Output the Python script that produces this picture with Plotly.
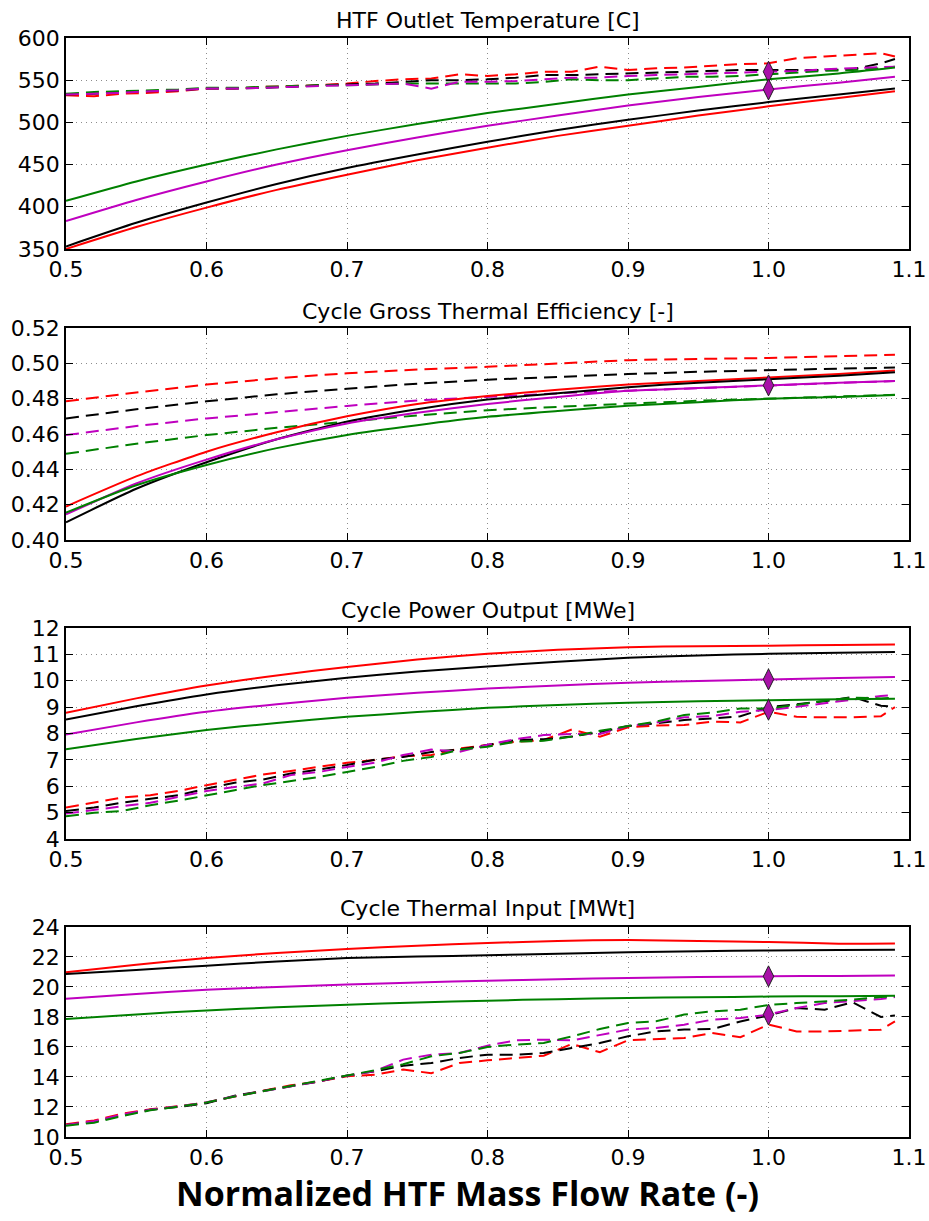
import plotly.graph_objects as go

# ---------------- data ----------------
x_solid = [0.50, 0.55, 0.60, 0.65, 0.70, 0.75, 0.80, 0.85, 0.90, 0.95, 1.00, 1.05, 1.09]
x_dash = [0.50, 0.52, 0.54, 0.56, 0.58, 0.60, 0.62, 0.64, 0.66, 0.68, 0.70, 0.72, 0.74, 0.76, 0.78,
          0.80, 0.82, 0.84, 0.86, 0.88, 0.90, 0.92, 0.94, 0.96, 0.98, 1.00, 1.02, 1.04, 1.06, 1.08, 1.09]

titles = ["HTF Outlet Temperature [C]", "Cycle Gross Thermal Efficiency [-]",
          "Cycle Power Output [MWe]", "Cycle Thermal Input [MWt]"]
x_label = "Normalized HTF Mass Flow Rate (-)"

# Panel 1: HTF outlet temperature
t_solid_green = [407, 430, 450, 468, 484, 498, 511, 522, 533, 542, 551, 558, 565]
t_solid_mag = [383, 408, 430, 450, 467, 482, 496, 508, 520, 530, 539, 547, 554]
t_solid_black = [353, 381, 405, 427, 446, 462, 477, 491, 503, 514, 524, 533, 540]
t_solid_red = [350, 376, 399, 420, 438, 455, 470, 484, 496, 508, 519, 529, 537]
t_dash_red = [532, 531, 534, 535, 537, 540, 540, 542, 543, 544, 546, 549, 551, 552, 557,
              555, 557, 560, 560, 566, 562, 564, 565, 567, 569, 570, 576, 578, 580, 582, 578]
t_dash_black = [533, 534, 536, 537, 538, 540, 540, 541, 542, 544, 545, 546, 548, 550, 550,
                551, 553, 556, 556, 557, 558, 559, 560, 561, 562, 562, 562, 562, 563, 570, 575]
t_dash_green = [534, 536, 537, 538, 539, 541, 541, 542, 543, 544, 544, 545, 546, 546, 546,
                546, 546, 548, 551, 550, 550, 552, 554, 554, 555, 557, 559, 561, 562, 564, 566]
t_dash_mag = [533, 534, 535, 537, 538, 540, 540, 541, 542, 543, 544, 545, 546, 540, 548,
              548, 549, 551, 553, 553, 555, 556, 557, 558, 559, 560, 561, 563, 564, 565, 566]
t_design = [560, 539]

# Panel 2: cycle gross thermal efficiency
e_solid_red = [0.419, 0.436, 0.450, 0.461, 0.470, 0.477, 0.4815, 0.485, 0.488, 0.490, 0.492, 0.494, 0.496]
e_solid_black = [0.410, 0.429, 0.444, 0.457, 0.467, 0.474, 0.4795, 0.483, 0.4865, 0.489, 0.491, 0.493, 0.495]
e_solid_mag = [0.4145, 0.432, 0.4455, 0.457, 0.466, 0.472, 0.477, 0.481, 0.4845, 0.486, 0.4875, 0.489, 0.490]
e_solid_green = [0.4155, 0.431, 0.4425, 0.452, 0.4595, 0.465, 0.4697, 0.473, 0.476, 0.478, 0.480, 0.481, 0.482]
e_dash_red = [0.4785, 0.4835, 0.488, 0.4915, 0.4944, 0.4965, 0.498, 0.500, 0.5018, 0.5025, 0.503, 0.504, 0.5048]
e_dash_black = [0.4688, 0.474, 0.4785, 0.4825, 0.4856, 0.4885, 0.4907, 0.4925, 0.4939, 0.4952, 0.4963, 0.497, 0.4976]
e_dash_mag = [0.4594, 0.4645, 0.4688, 0.4725, 0.4759, 0.479, 0.4812, 0.483, 0.4845, 0.486, 0.4875, 0.489, 0.490]
e_dash_green = [0.4488, 0.4545, 0.4594, 0.4635, 0.467, 0.4705, 0.4735, 0.4755, 0.4772, 0.4788, 0.480, 0.481, 0.4822]
e_design = [0.4875]

# Panel 3: cycle power output
p_solid_red = [8.78, 9.33, 9.82, 10.20, 10.52, 10.80, 11.02, 11.17, 11.27, 11.31, 11.33, 11.35, 11.37]
p_solid_black = [8.53, 9.03, 9.48, 9.83, 10.11, 10.35, 10.54, 10.72, 10.87, 10.96, 11.02, 11.06, 11.09]
p_solid_mag = [7.96, 8.42, 8.82, 9.11, 9.35, 9.54, 9.70, 9.82, 9.92, 9.99, 10.05, 10.10, 10.14]
p_solid_green = [7.40, 7.79, 8.13, 8.40, 8.63, 8.81, 8.97, 9.08, 9.16, 9.22, 9.26, 9.30, 9.32]
p_dash_red = [5.19, 5.37, 5.57, 5.66, 5.82, 6.04, 6.23, 6.44, 6.58, 6.73, 6.89, 6.99, 7.14, 7.18, 7.43,
              7.56, 7.68, 7.75, 8.15, 7.88, 8.23, 8.30, 8.32, 8.45, 8.42, 8.82, 8.63, 8.61, 8.61, 8.65, 9.00]
p_dash_black = [5.06, 5.19, 5.38, 5.51, 5.66, 5.91, 6.13, 6.25, 6.48, 6.63, 6.80, 7.01, 7.11, 7.30, 7.39,
                7.56, 7.75, 7.78, 7.88, 8.05, 8.28, 8.38, 8.51, 8.57, 8.65, 9.00, 9.10, 9.22, 9.38, 9.05, 9.02]
p_dash_mag = [4.96, 5.11, 5.24, 5.37, 5.60, 5.82, 5.97, 6.10, 6.42, 6.54, 6.73, 6.89, 7.18, 7.39, 7.30,
              7.57, 7.78, 7.94, 7.98, 7.98, 8.28, 8.41, 8.61, 8.66, 8.82, 8.89, 9.01, 9.14, 9.29, 9.42, 9.45]
p_dash_green = [4.86, 4.99, 5.06, 5.28, 5.45, 5.66, 5.85, 6.04, 6.20, 6.35, 6.54, 6.73, 6.96, 7.11, 7.39,
                7.50, 7.69, 7.72, 7.88, 8.10, 8.28, 8.45, 8.70, 8.79, 8.95, 8.95, 9.08, 9.24, 9.36, 9.33, 9.36]
p_design = [10.05, 8.90]

# Panel 4: cycle thermal input
q_solid_red = [20.98, 21.48, 21.93, 22.26, 22.53, 22.75, 22.93, 23.07, 23.13, 23.07, 23.00, 22.89, 22.90]
q_solid_black = [20.87, 21.14, 21.42, 21.70, 21.93, 22.03, 22.11, 22.22, 22.31, 22.39, 22.44, 22.47, 22.49]
q_solid_mag = [19.22, 19.53, 19.82, 20.00, 20.16, 20.30, 20.42, 20.52, 20.60, 20.66, 20.71, 20.74, 20.76]
q_solid_green = [17.87, 18.17, 18.44, 18.65, 18.82, 18.97, 19.09, 19.19, 19.27, 19.32, 19.36, 19.39, 19.42]
q_dash_red = [10.85, 11.10, 11.55, 11.85, 12.05, 12.30, 12.70, 13.05, 13.45, 13.70, 14.05, 14.15, 14.50, 14.25, 14.93,
              15.11, 15.27, 15.42, 16.20, 15.65, 16.45, 16.53, 16.60, 16.93, 16.65, 17.50, 17.04, 17.04, 17.08, 17.15, 17.71]
q_dash_black = [10.80, 11.00, 11.45, 11.82, 12.00, 12.25, 12.75, 13.05, 13.40, 13.70, 14.10, 14.38, 14.75, 14.93, 15.27,
                15.49, 15.49, 15.60, 15.93, 16.27, 16.71, 17.04, 17.16, 17.20, 17.70, 18.10, 18.60, 18.49, 18.98, 18.00, 18.10]
q_dash_mag = [10.80, 11.05, 11.50, 11.82, 12.04, 12.31, 12.71, 13.04, 13.42, 13.71, 14.09, 14.40, 15.16, 15.49, 15.60,
              16.09, 16.44, 16.49, 16.44, 16.82, 17.16, 17.27, 17.49, 17.82, 17.93, 18.16, 18.60, 18.93, 19.04, 19.20, 19.33]
q_dash_green = [10.75, 10.95, 11.40, 11.78, 12.02, 12.30, 12.70, 13.05, 13.42, 13.72, 14.10, 14.45, 14.85, 15.38, 15.60,
                16.00, 16.16, 16.27, 16.71, 17.20, 17.60, 17.71, 18.16, 18.38, 18.49, 18.80, 18.93, 19.04, 19.16, 19.33, 19.38]
q_design = [20.71, 18.16]

# ---------------- styling ----------------
RED, BLACK, MAG, GREEN = "#ff0000", "#000000", "#bf00bf", "#008000"
MARKER_FILL = "#a811a8"
DASH = "13px,7px"
LW = 2

panels = [
    dict(solid=[(t_solid_red, RED), (t_solid_black, BLACK), (t_solid_mag, MAG), (t_solid_green, GREEN)],
         dash=[(t_dash_red, RED), (t_dash_black, BLACK), (t_dash_green, GREEN), (t_dash_mag, MAG)],
         design=t_design, rng=[350, 600], dtick=50, fmt=None, dom=[0.7961, 0.9689], title_y=0.9836),
    dict(solid=[(e_solid_red, RED), (e_solid_black, BLACK), (e_solid_mag, MAG), (e_solid_green, GREEN)],
         dash=[(e_dash_red, RED), (e_dash_black, BLACK), (e_dash_mag, MAG), (e_dash_green, GREEN)],
         design=e_design, rng=[0.40, 0.52], dtick=0.02, fmt=".2f", dom=[0.5577, 0.7314], title_y=0.7445),
    dict(solid=[(p_solid_red, RED), (p_solid_black, BLACK), (p_solid_mag, MAG), (p_solid_green, GREEN)],
         dash=[(p_dash_red, RED), (p_dash_black, BLACK), (p_dash_mag, MAG), (p_dash_green, GREEN)],
         design=p_design, rng=[4, 12], dtick=1, fmt=None, dom=[0.3129, 0.4857], title_y=0.5004),
    dict(solid=[(q_solid_red, RED), (q_solid_black, BLACK), (q_solid_mag, MAG), (q_solid_green, GREEN)],
         dash=[(q_dash_red, RED), (q_dash_black, BLACK), (q_dash_mag, MAG), (q_dash_green, GREEN)],
         design=q_design, rng=[10, 24], dtick=2, fmt=None, dom=[0.0688, 0.2408], title_y=0.2563),
]

X_DOM = [66 / 929, 909 / 929]
TICK_FONT = dict(family="DejaVu Sans", size=22, color="black")

fig = go.Figure()
layout = dict(
    width=929, height=1221, margin=dict(l=0, r=0, t=0, b=0, autoexpand=False),
    paper_bgcolor="white", plot_bgcolor="white", showlegend=False,
    annotations=[],
)

for i, p in enumerate(panels):
    n = i + 1
    xa = "x" if n == 1 else f"x{n}"
    ya = "y" if n == 1 else f"y{n}"
    for vals, col in p["dash"]:
        xs = x_dash if len(vals) == len(x_dash) else x_solid
        fig.add_trace(go.Scatter(x=xs, y=vals, mode="lines", xaxis=xa, yaxis=ya,
                                 line=dict(color=col, width=LW, dash=DASH), hoverinfo="skip"))
    for vals, col in p["solid"]:
        fig.add_trace(go.Scatter(x=x_solid, y=vals, mode="lines", xaxis=xa, yaxis=ya,
                                 line=dict(color=col, width=LW, shape="spline", smoothing=0.6),
                                 hoverinfo="skip"))
    fig.add_trace(go.Scatter(x=[1.0] * len(p["design"]), y=p["design"], mode="markers",
                             xaxis=xa, yaxis=ya,
                             marker=dict(symbol="diamond-tall", size=15, color=MARKER_FILL,
                                         line=dict(color="#202020", width=1)),
                             hoverinfo="skip"))

    axis_common = dict(showline=True, linecolor="black", linewidth=1.5, mirror="ticks",
                       ticks="inside", ticklen=7, tickwidth=1.2, tickcolor="black",
                       showgrid=True, gridcolor="#8c8c8c", griddash="1px,4px", gridwidth=1,
                       zeroline=False, tickfont=TICK_FONT, automargin=False)
    xkey = "xaxis" if n == 1 else f"xaxis{n}"
    ykey = "yaxis" if n == 1 else f"yaxis{n}"
    layout[xkey] = dict(axis_common, domain=X_DOM, anchor=ya, range=[0.5, 1.1],
                        tick0=0.5, dtick=0.1, tickformat=".1f")
    yax = dict(axis_common, domain=p["dom"], anchor=xa, range=p["rng"], tick0=p["rng"][0],
               dtick=p["dtick"])
    if p["fmt"]:
        yax["tickformat"] = p["fmt"]
    layout[ykey] = yax
    layout["annotations"].append(dict(text=titles[i], xref="paper", yref="paper",
                                      x=(X_DOM[0] + X_DOM[1]) / 2, y=p["title_y"],
                                      xanchor="center", yanchor="middle", showarrow=False,
                                      font=dict(family="DejaVu Sans", size=22, color="black")))

layout["annotations"].append(dict(text=f"<b>{x_label}</b>", xref="paper", yref="paper",
                                  x=467 / 929, y=1 - 1193 / 1221,
                                  xanchor="center", yanchor="middle", showarrow=False,
                                  font=dict(family="Open Sans", size=34, color="black")))

fig.update_layout(**layout)
fig.write_html("out.html", config={"displayModeBar": False},
               post_script="document.body.style.margin='0';document.body.style.overflow='hidden';")
